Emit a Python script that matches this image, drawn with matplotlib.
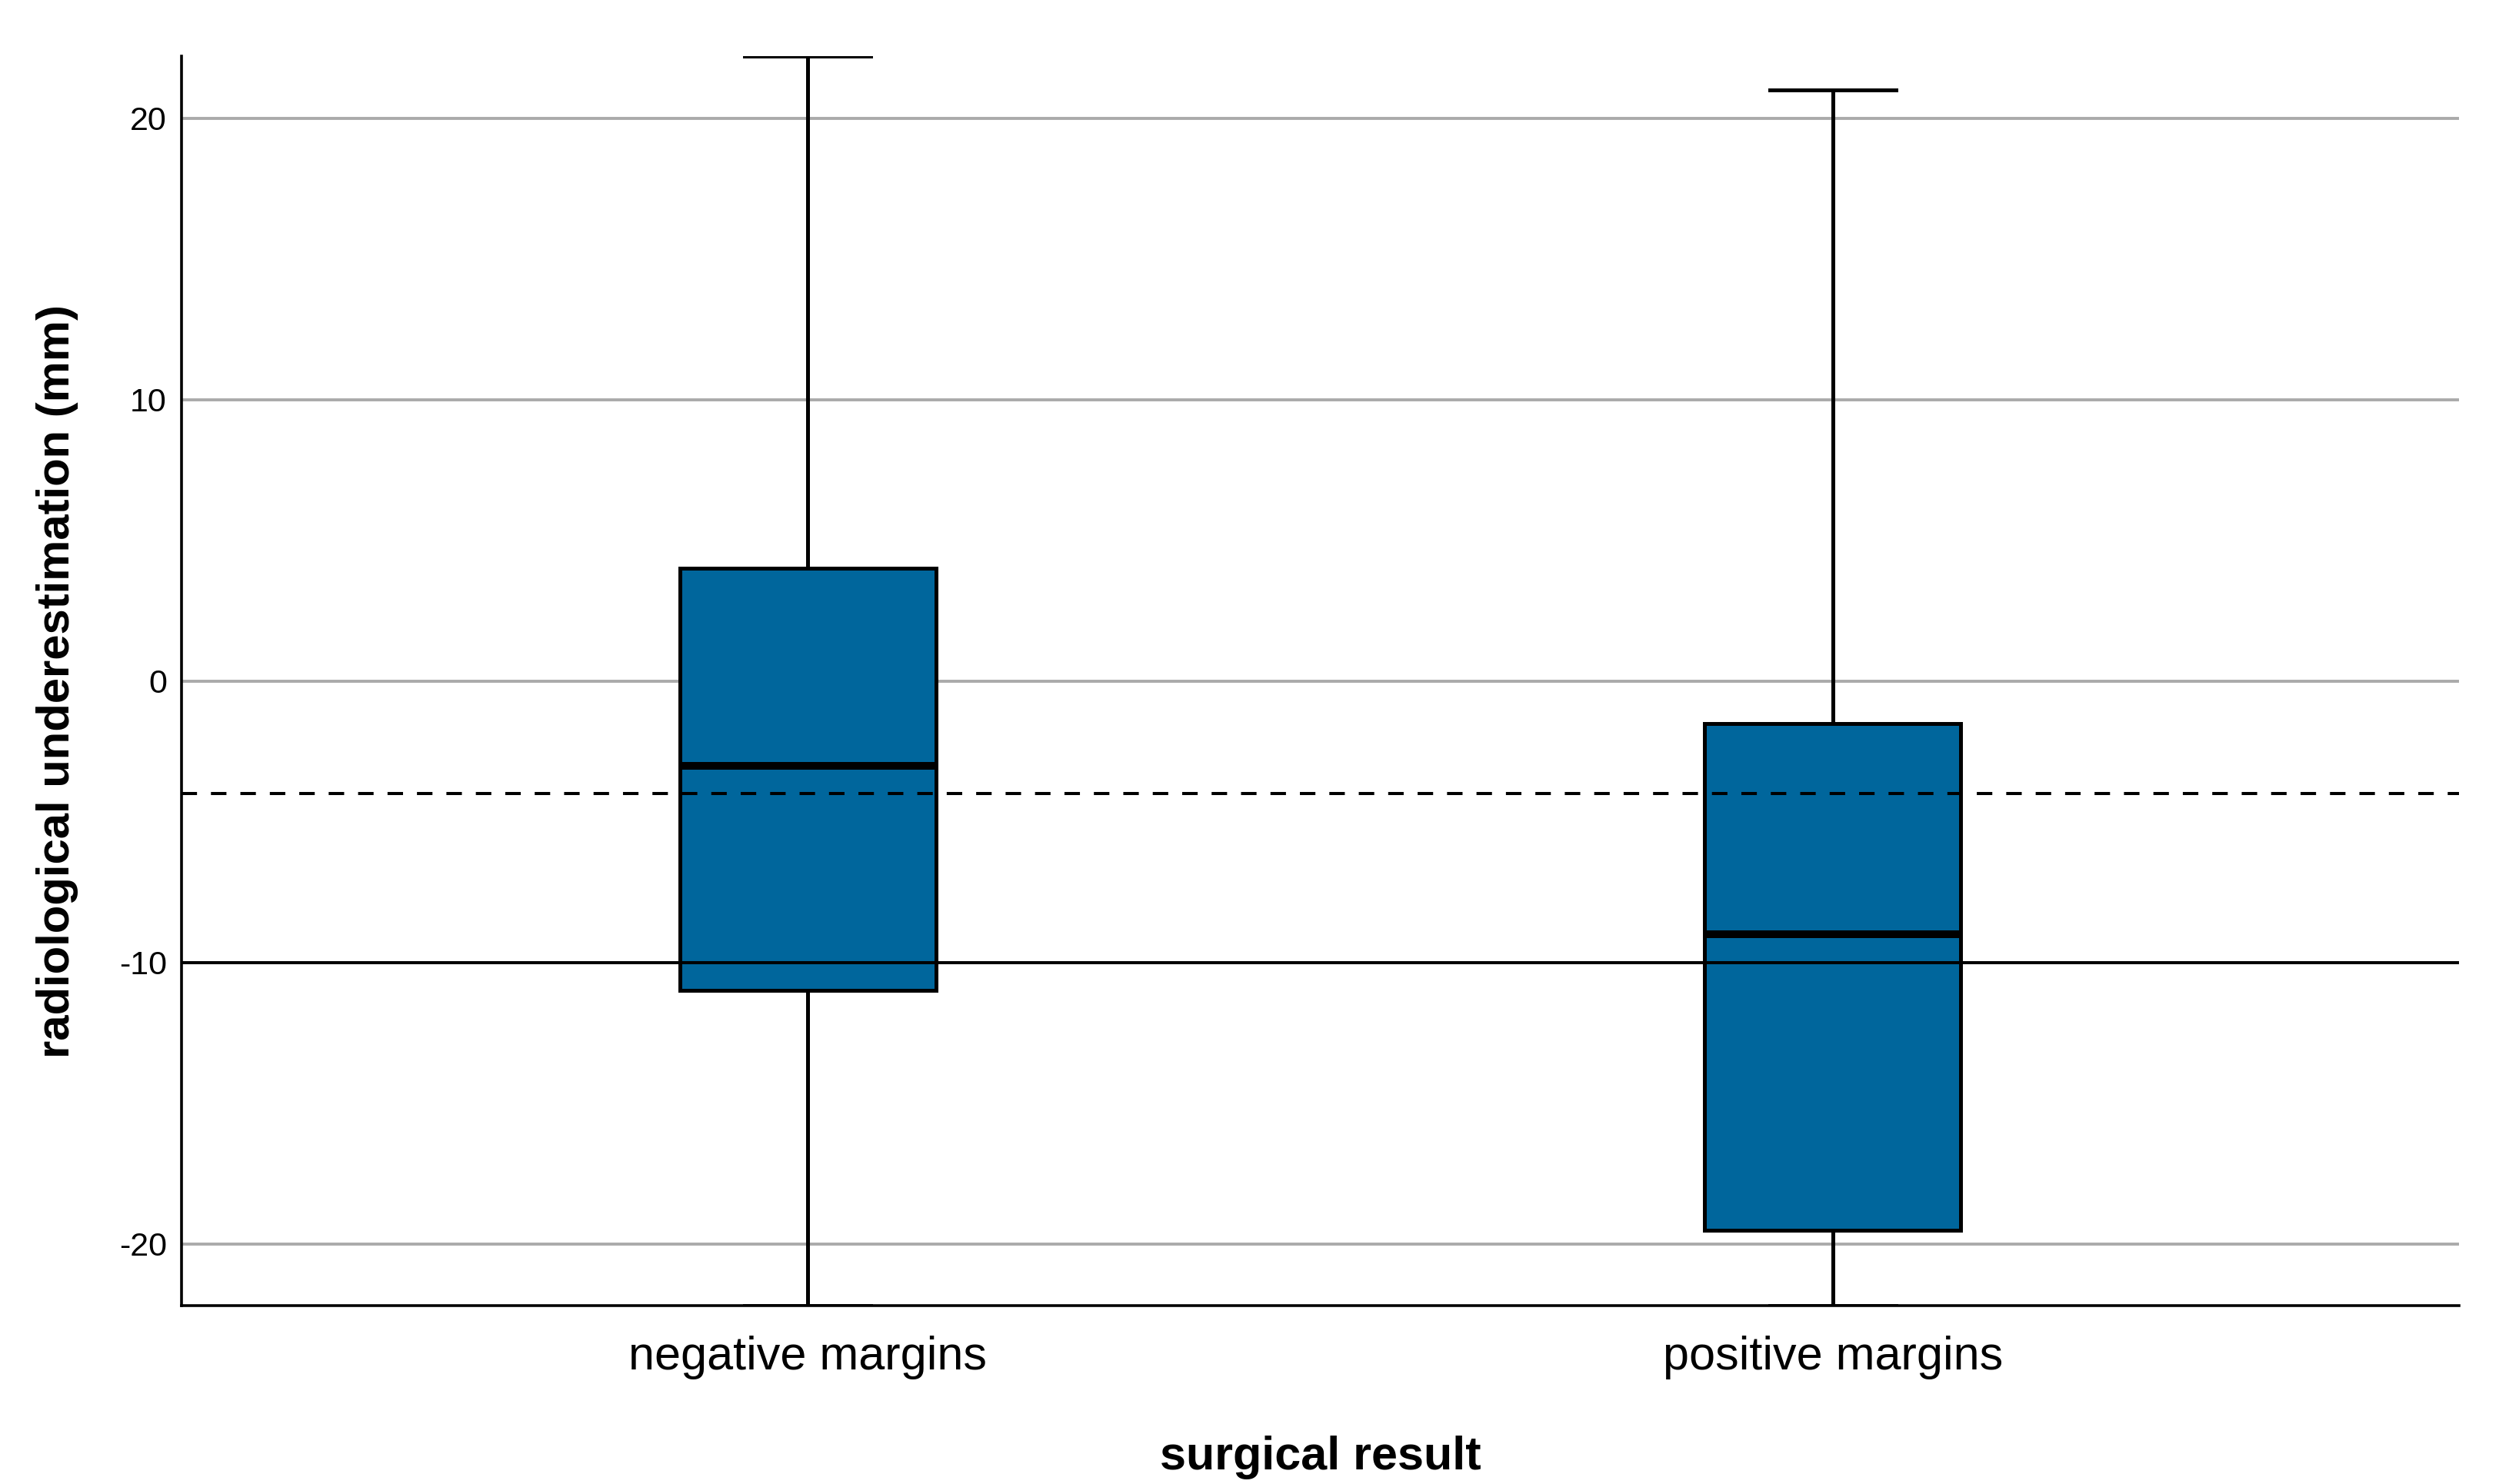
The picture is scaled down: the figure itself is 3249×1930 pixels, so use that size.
import matplotlib.pyplot as plt

plt.rcParams["font.family"] = ["Liberation Sans", "DejaVu Sans"]
plt.rcParams["axes.unicode_minus"] = False

# values (mm)
categories = ["negative margins", "positive margins"]
whisker_low = [-22.2, -22.2]
q1 = [-11.0, -19.5]
median = [-3.0, -9.0]
q3 = [4.0, -1.5]
whisker_high = [22.2, 21.0]
mean_line = -4.0
ref_line = -10.0
yticks = [-20, -10, 0, 10, 20]

stats = []
for i in range(len(categories)):
    stats.append({"label": categories[i], "whislo": whisker_low[i], "q1": q1[i],
                  "med": median[i], "q3": q3[i], "whishi": whisker_high[i], "fliers": []})

fig = plt.figure(figsize=(16.245, 9.65), dpi=200)
ax = fig.add_axes([0.0727, 0.120, 0.9113, 0.842])

for y in yticks:
    if y == ref_line:
        continue
    ax.axhline(y, color="#aaaaaa", lw=1.4, zorder=0)

ax.bxp(stats, positions=[0, 1], widths=0.25, patch_artist=True, showfliers=False,
       boxprops=dict(facecolor="#00669c", edgecolor="black", linewidth=1.8),
       medianprops=dict(color="black", linewidth=3.6),
       whiskerprops=dict(color="black", linewidth=1.8),
       capprops=dict(color="black", linewidth=1.8),
       capwidths=0.123, zorder=2)

# reference lines sit on top of the boxes
ax.axhline(ref_line, color="black", lw=1.45, zorder=4)
ax.axhline(mean_line, color="black", lw=1.45, ls=(0, (5, 4.5)), zorder=4)

ax.set_xlim(-0.611, 1.611)
ax.set_ylim(-22.2, 22.2)
ax.set_yticks(yticks)
ax.set_yticklabels([str(y) for y in yticks])
ax.tick_params(axis="y", length=0, pad=7, labelsize=15.5)
ax.tick_params(axis="x", length=0, pad=14, labelsize=22)

for s in ["top", "right"]:
    ax.spines[s].set_visible(False)
for s in ["left", "bottom"]:
    ax.spines[s].set_linewidth(1.3)

ax.set_xlabel("surgical result", fontsize=22, fontweight="bold", labelpad=26)
ax.set_ylabel("radiological underestimation (mm)", fontsize=21.5, fontweight="bold", labelpad=19)

fig.savefig("out.png", dpi=200)
